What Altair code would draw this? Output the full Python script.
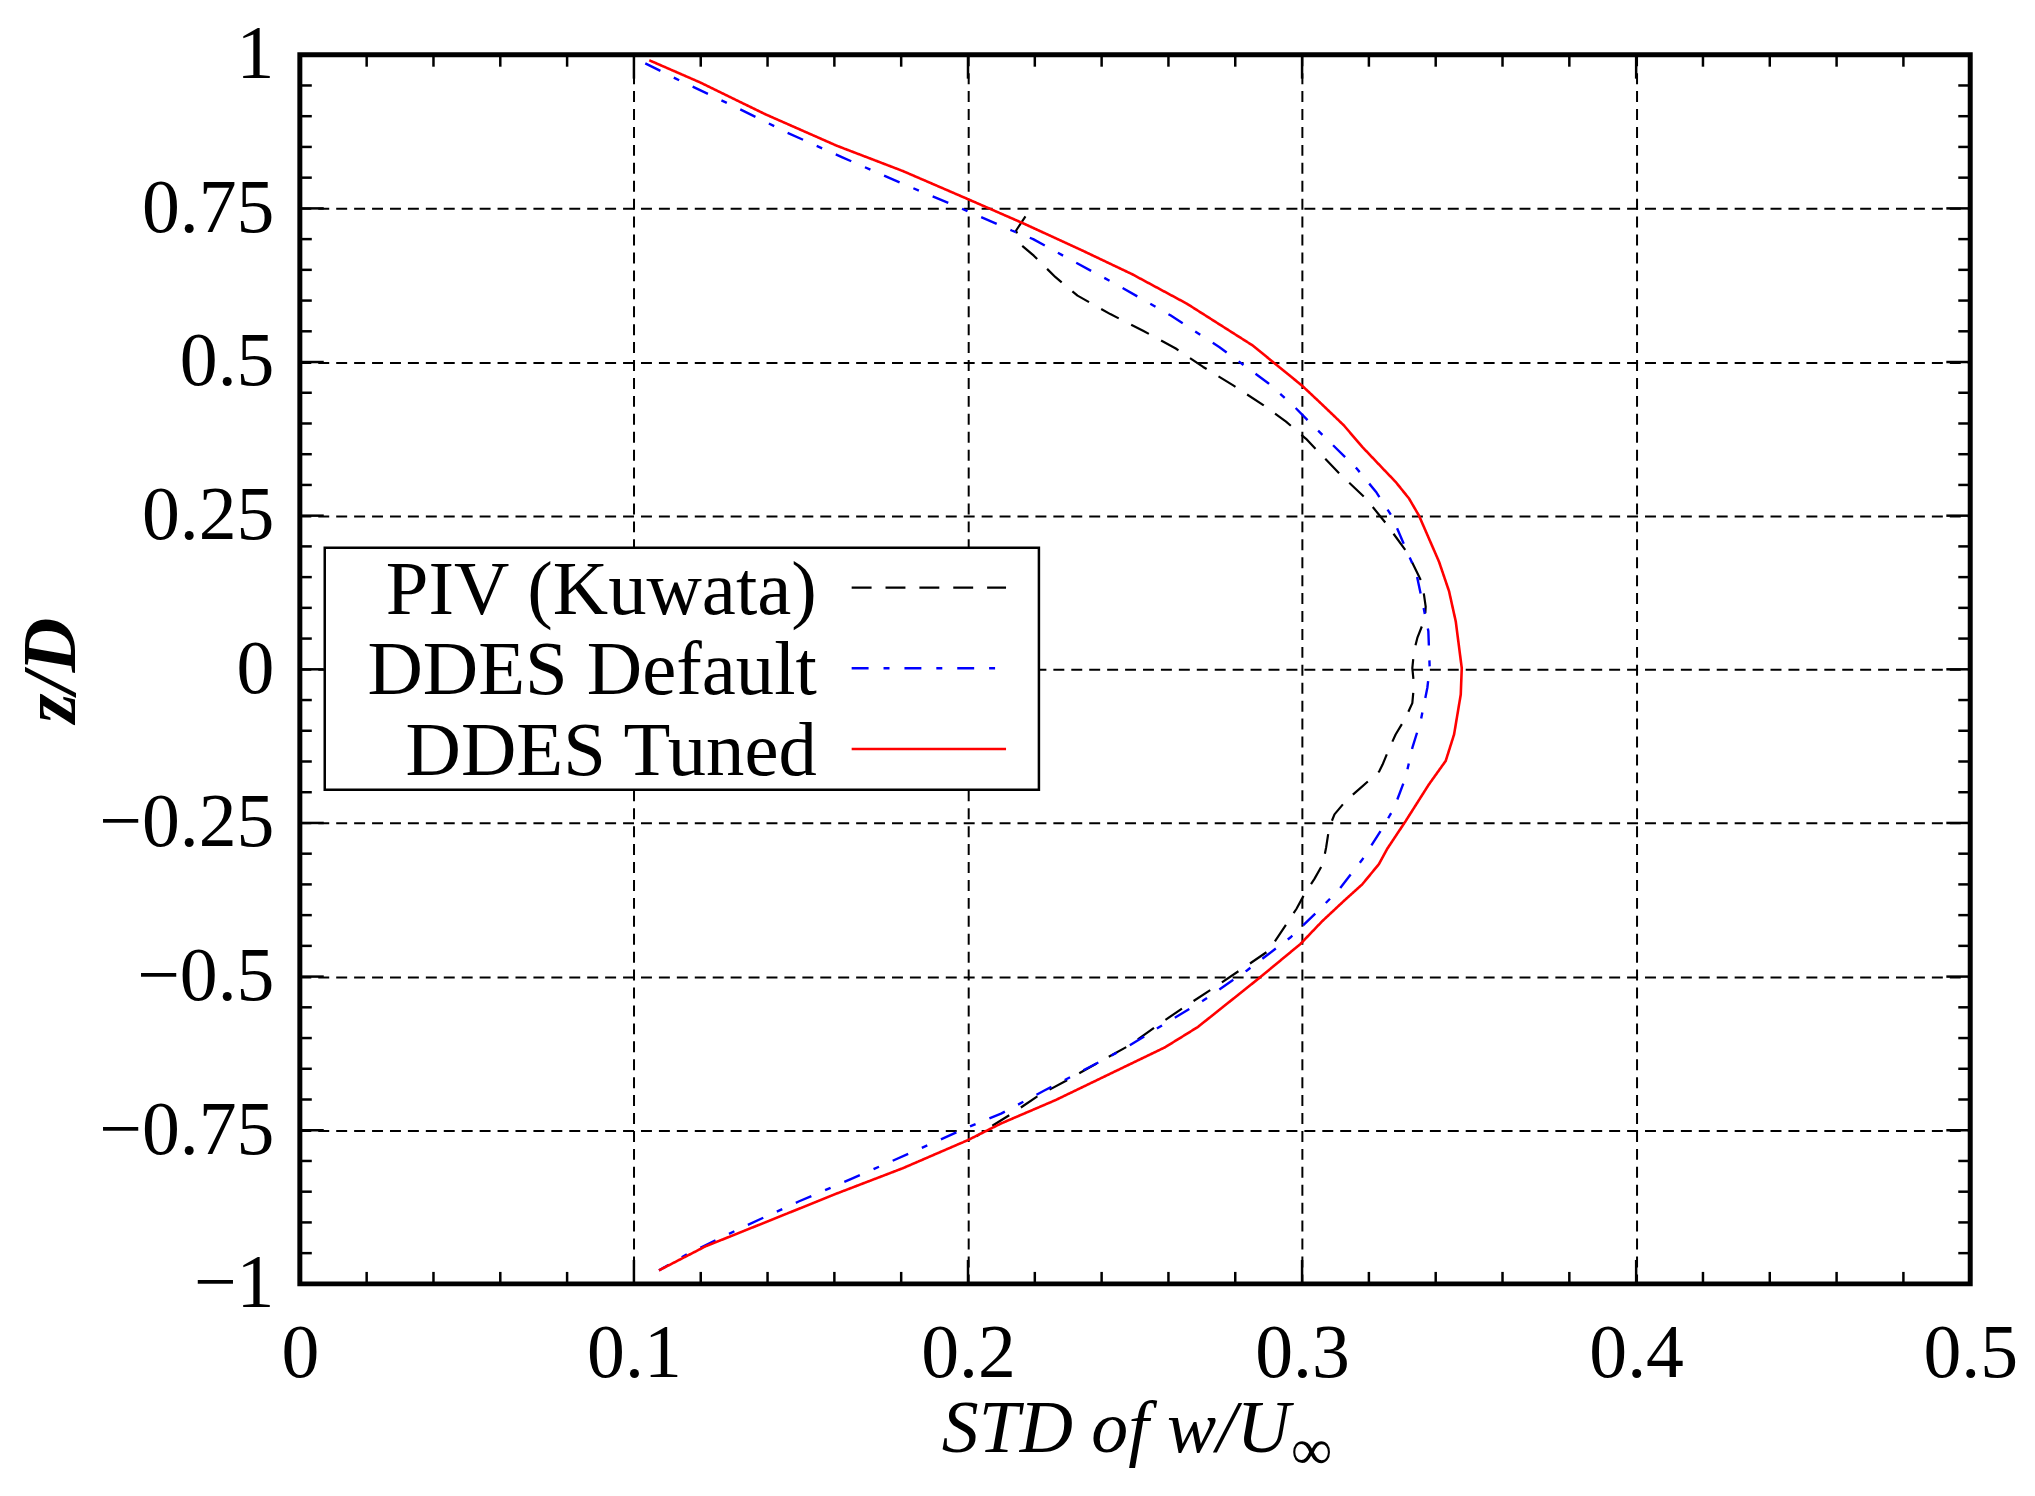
import altair as alt
import pandas as pd

# ---------------- data ----------------
piv_x = [0.2172, 0.2144, 0.2156, 0.2197, 0.2262, 0.2328, 0.2426, 0.2524, 0.2622, 0.2704,
         0.2794, 0.2884, 0.2952, 0.3012, 0.3040, 0.3111, 0.3191, 0.3251, 0.3316, 0.3360,
         0.3370, 0.3368, 0.3345, 0.3335, 0.3330, 0.3335, 0.3330, 0.3310, 0.3280, 0.3260,
         0.3241, 0.3231, 0.3171, 0.3131, 0.3097, 0.3081, 0.3072, 0.3062, 0.3037, 0.3007,
         0.2983, 0.2900, 0.2835, 0.2753, 0.2663, 0.2573, 0.2483, 0.2393, 0.2295, 0.2213,
         0.2131, 0.2066, 0.2025]
piv_z = [0.737, 0.714, 0.692, 0.673, 0.638, 0.608, 0.578, 0.551, 0.522, 0.492,
         0.462, 0.430, 0.403, 0.375, 0.359, 0.319, 0.278, 0.2375, 0.189, 0.140,
         0.102, 0.083, 0.051, 0.029, 0.002, -0.025, -0.055, -0.079, -0.106, -0.130,
         -0.155, -0.166, -0.195, -0.214, -0.236, -0.258, -0.290, -0.317, -0.341, -0.366,
         -0.390, -0.458, -0.482, -0.512, -0.544, -0.577, -0.612, -0.639, -0.669, -0.693,
         -0.723, -0.745, -0.760]

def_x = [0.1034, 0.1141, 0.1296, 0.1460, 0.1624, 0.1796, 0.1967, 0.2131, 0.2195, 0.2295,
         0.2450, 0.2606, 0.2753, 0.2900, 0.2972, 0.3032, 0.3092, 0.3163, 0.3221, 0.3270,
         0.3310, 0.3341, 0.3360, 0.3378, 0.3382, 0.3375, 0.3355, 0.3330, 0.3310, 0.3276,
         0.3241, 0.3181, 0.3111, 0.3050, 0.2966, 0.2835, 0.2704, 0.2573, 0.2475, 0.2393,
         0.2230, 0.2099, 0.2000, 0.1836, 0.1656, 0.1493, 0.1329, 0.1165, 0.1075]
def_z = [0.986, 0.957, 0.917, 0.873, 0.833, 0.792, 0.753, 0.714, 0.700, 0.670,
         0.6245, 0.576, 0.524, 0.465, 0.430, 0.397, 0.365, 0.327, 0.289, 0.248,
         0.197, 0.159, 0.110, 0.062, 0.002, -0.030, -0.084, -0.128, -0.176, -0.225,
         -0.258, -0.309, -0.358, -0.392, -0.436, -0.490, -0.539, -0.582, -0.615, -0.639,
         -0.685, -0.723, -0.745, -0.785, -0.828, -0.866, -0.907, -0.950, -0.978]

tun_x = [0.1046, 0.1198, 0.1394, 0.1607, 0.1804, 0.2000, 0.2164, 0.2344, 0.2491, 0.2655,
         0.2852, 0.2999, 0.3052, 0.3125, 0.3180, 0.3250, 0.3280, 0.3320, 0.3350, 0.3410,
         0.3440, 0.3460, 0.3478, 0.3475, 0.3455, 0.3430, 0.3380, 0.3310, 0.3255, 0.3230,
         0.3180, 0.3125, 0.3060, 0.2995, 0.2868, 0.2688, 0.2590, 0.2426, 0.2262, 0.2099,
         0.2000, 0.1804, 0.1607, 0.1411, 0.1214, 0.1075]
tun_z = [0.991, 0.955, 0.903, 0.852, 0.811, 0.765, 0.726, 0.681, 0.643, 0.595,
         0.527, 0.462, 0.435, 0.397, 0.362, 0.322, 0.305, 0.278, 0.250, 0.175,
         0.127, 0.078, 0.002, -0.041, -0.106, -0.149, -0.187, -0.247, -0.292, -0.317,
         -0.350, -0.377, -0.410, -0.447, -0.504, -0.582, -0.615, -0.658, -0.701, -0.739,
         -0.766, -0.812, -0.853, -0.896, -0.939, -0.978]

series_names = ["PIV (Kuwata)", "DDES Default", "DDES Tuned"]
series_colors = ["#000000", "#0000ff", "#ff0000"]
series_dash = [[20, 14], [17, 15, 6, 15], [1, 0]]
series_width = [2.2, 2.4, 2.6]

x_major = [0, 0.1, 0.2, 0.3, 0.4, 0.5]
y_major = [-1, -0.75, -0.5, -0.25, 0, 0.25, 0.5, 0.75, 1]
x_minor = [round(i * 0.02, 2) for i in range(26) if i % 5 != 0]
y_minor = [round(-1 + i * 0.05, 2) for i in range(41) if i % 5 != 0]

x_title = "STD of w/U"
x_title_sub = "\u221e"
y_title = "z/D"

# ---------------- layout ----------------
W, H = 1677, 1234
FONT = "Liberation Serif"
MAJ, MIN = 24, 12

xs = alt.Scale(domain=[0, 0.5], nice=False, zero=False)
ys = alt.Scale(domain=[-1, 1], nice=False, zero=False)

LBL = "replace(format(datum.value, '~g'), '-', '\u2212')"
x_axis = alt.Axis(values=x_major, grid=True, gridColor="black", gridDash=[11, 7], gridWidth=2,
                  gridOpacity=1, ticks=False, domain=False, title=None,
                  labelFont=FONT, labelFontSize=76, labelColor="black", labelPadding=33,
                  labelFlush=False, labelOverlap=False, labelBound=False, labelExpr=LBL)
y_axis = alt.Axis(values=y_major, grid=True, gridColor="black", gridDash=[11, 7], gridWidth=2,
                  gridOpacity=1, ticks=False, domain=False, title=None,
                  labelFont=FONT, labelFontSize=76, labelColor="black", labelPadding=26,
                  labelFlush=False, labelOverlap=False, labelBound=False, labelExpr=LBL)


def X(field):
    return alt.X(field, type="quantitative", scale=xs, axis=x_axis)


def Y(field):
    return alt.Y(field, type="quantitative", scale=ys, axis=y_axis)


frames = []
for name, xv, zv in [(series_names[0], piv_x, piv_z),
                     (series_names[1], def_x, def_z),
                     (series_names[2], tun_x, tun_z)]:
    frames.append(pd.DataFrame({"series": name, "x": xv, "z": zv, "i": range(len(xv))}))

layers = []
for k, df in enumerate(frames):
    layers.append(alt.Chart(df).mark_line(
        color=series_colors[k], strokeDash=series_dash[k], strokeWidth=series_width[k],
        strokeCap="butt", strokeJoin="round", clip=True
    ).encode(x=X("x"), y=Y("z"), order=alt.Order("i:Q")))


# inward ticks on all four sides
def xticks(vals, length):
    d = pd.DataFrame({"x": vals})
    bottom = alt.Chart(d).mark_rule(color="black", strokeWidth=2.5).encode(
        x=X("x"), y=alt.value(H), y2=alt.value(H - length))
    top = alt.Chart(d).mark_rule(color="black", strokeWidth=2.5).encode(
        x=X("x"), y=alt.value(0), y2=alt.value(length))
    return [bottom, top]


def yticks(vals, length):
    d = pd.DataFrame({"z": vals})
    left = alt.Chart(d).mark_rule(color="black", strokeWidth=2.5).encode(
        y=Y("z"), x=alt.value(0), x2=alt.value(length))
    right = alt.Chart(d).mark_rule(color="black", strokeWidth=2.5).encode(
        y=Y("z"), x=alt.value(W), x2=alt.value(W - length))
    return [left, right]


layers += xticks(x_major, MAJ) + xticks(x_minor, MIN) + yticks(y_major, MAJ) + yticks(y_minor, MIN)

# legend box (drawn manually: labels sit left of the samples)
one = pd.DataFrame({"a": [0]})
layers.append(alt.Chart(one).mark_rect(fill="white", stroke="black", strokeWidth=2.5).encode(
    x=alt.value(25), x2=alt.value(742), y=alt.value(495), y2=alt.value(738)))
leg_text_y = [561, 642, 723]
leg_line_y = [535, 616, 697]
for k in range(3):
    layers.append(alt.Chart(pd.DataFrame({"t": [series_names[k]]})).mark_text(
        font=FONT, fontSize=77, align="right", baseline="alphabetic", color="black"
    ).encode(text="t:N", x=alt.value(519), y=alt.value(leg_text_y[k])))
    layers.append(alt.Chart(one).mark_rule(
        color=series_colors[k], strokeDash=series_dash[k], strokeWidth=series_width[k], strokeCap="butt"
    ).encode(x=alt.value(554), x2=alt.value(709), y=alt.value(leg_line_y[k])))

# axis titles
layers.append(alt.Chart(pd.DataFrame({"t": [x_title]})).mark_text(
    font=FONT, fontSize=74, fontStyle="italic", align="right", baseline="alphabetic", color="black"
).encode(text="t:N", x=alt.value(994), y=alt.value(1403)))
layers.append(alt.Chart(pd.DataFrame({"t": [x_title_sub]})).mark_text(
    font=FONT, fontSize=58, align="left", baseline="alphabetic", color="black"
).encode(text="t:N", x=alt.value(995), y=alt.value(1420)))
layers.append(alt.Chart(pd.DataFrame({"t": [y_title]})).mark_text(
    font=FONT, fontSize=76, fontStyle="italic", fontWeight="bold", align="center",
    baseline="alphabetic", angle=270, color="black"
).encode(text="t:N", x=alt.value(-226), y=alt.value(618)))

chart = alt.layer(*layers).properties(
    width=W, height=H,
    autosize=alt.AutoSizeParams(type="none"),
    padding={"left": 293, "top": 44, "right": 57, "bottom": 200},
    background="white",
).configure_view(stroke="black", strokeWidth=5)

chart.save("out.html", embed_options={"renderer": "svg", "actions": False})
